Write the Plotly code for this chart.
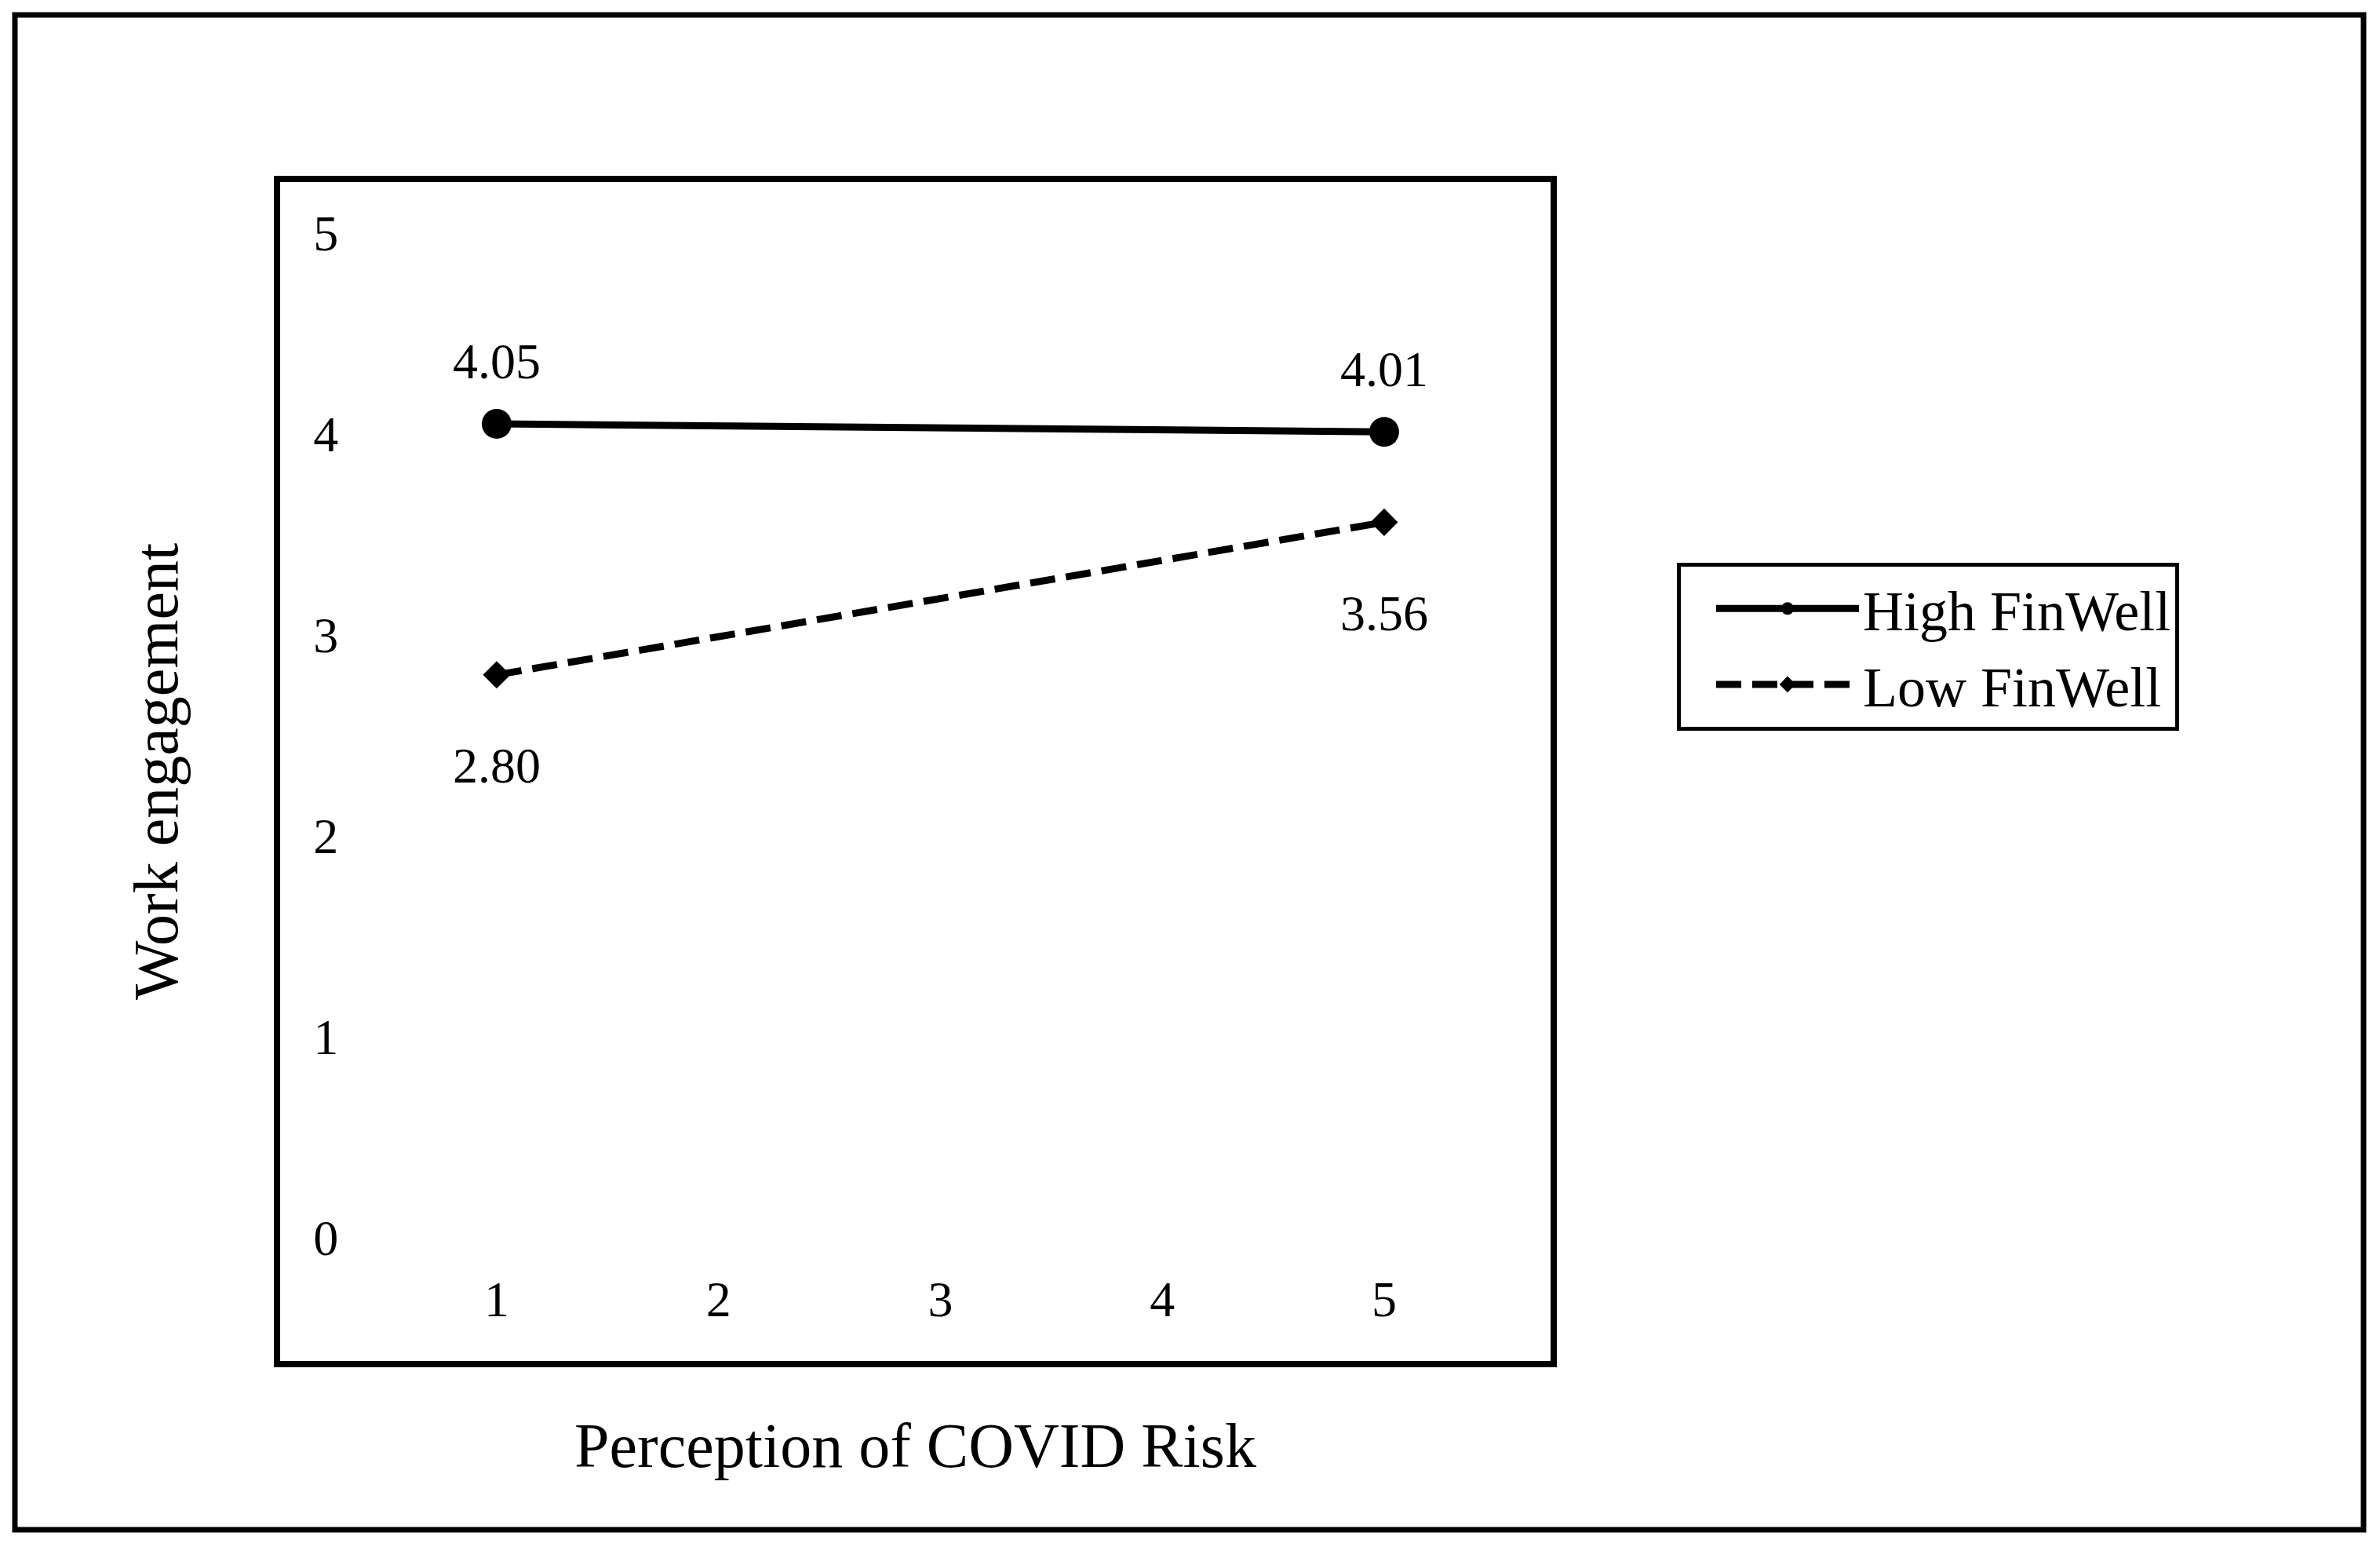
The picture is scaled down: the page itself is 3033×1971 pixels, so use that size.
import plotly.graph_objects as go

# ---- data ----
x_levels = [1, 5]
high_finwell = [4.05, 4.01]
low_finwell = [2.80, 3.56]
series_names = ["High FinWell", "Low FinWell"]
x_ticks = [1, 2, 3, 4, 5]
y_ticks = [0, 1, 2, 3, 4, 5]
x_title = "Perception of COVID Risk"
y_title = "Work engagement"

W, H = 3033, 1971
PL, PR, PT, PB = 357, 1976, 232, 1734  # plot box in pixels
FONT = "Liberation Serif"


def px_x(px):
    return (px - PL) / (PR - PL)


def px_y(py):
    return (PB - py) / (PB - PT)


fig = go.Figure()
fig.add_trace(go.Scatter(
    x=x_levels, y=high_finwell, name=series_names[0], mode="lines+markers",
    line=dict(color="black", width=9),
    marker=dict(symbol="circle", size=38, color="black"),
))
fig.add_trace(go.Scatter(
    x=x_levels, y=low_finwell, name=series_names[1], mode="lines+markers",
    line=dict(color="black", width=9, dash="32px,14px"),
    marker=dict(symbol="diamond", size=27, color="black"),
))

annotations = []
for xv, yv in zip(x_levels, high_finwell):
    annotations.append(dict(x=xv, y=yv, xref="x", yref="y", text=f"{yv:.2f}",
                            showarrow=False, yshift=80, yanchor="middle",
                            font=dict(family=FONT, size=64, color="black")))
for xv, yv in zip(x_levels, low_finwell):
    annotations.append(dict(x=xv, y=yv, xref="x", yref="y", text=f"{yv:.2f}",
                            showarrow=False, yshift=-116, yanchor="middle",
                            font=dict(family=FONT, size=64, color="black")))

shapes = [
    dict(type="rect", xref="paper", yref="paper",
         x0=px_x(19), x1=px_x(3012), y0=px_y(1949), y1=px_y(19),
         line=dict(color="black", width=7), fillcolor="rgba(0,0,0,0)", layer="below"),
]

fig.update_layout(
    width=W, height=H,
    margin=dict(l=PL, r=W - PR, t=PT, b=H - PB, pad=0),
    paper_bgcolor="white", plot_bgcolor="white",
    font=dict(family=FONT, color="black", size=64),
    showlegend=True,
    legend=dict(
        x=px_x(2137), y=px_y(717), xanchor="left", yanchor="top",
        bordercolor="black", borderwidth=5, bgcolor="white",
        font=dict(family=FONT, size=72, color="black"),
        itemwidth=182, tracegroupgap=0, indentation=40,
    ),
    annotations=annotations,
    shapes=shapes,
    xaxis=dict(
        range=[0.024, 5.75], tickvals=x_ticks, ticktext=[str(t) for t in x_ticks],
        showgrid=False, zeroline=False, showline=True, mirror=True,
        linecolor="black", linewidth=8, ticks="",
        ticklabelposition="inside", ticklabelstandoff=54,
        tickfont=dict(family=FONT, size=64, color="black"),
        title=dict(text=x_title, standoff=126, font=dict(family=FONT, size=80, color="black")),
        automargin=False, fixedrange=True,
    ),
    yaxis=dict(
        range=[-0.617, 5.254], tickvals=y_ticks, ticktext=[str(t) for t in y_ticks],
        showgrid=False, zeroline=False, showline=True, mirror=True,
        linecolor="black", linewidth=8, ticks="",
        ticklabelposition="inside", ticklabelstandoff=52,
        tickfont=dict(family=FONT, size=64, color="black"),
        title=dict(text=y_title, standoff=149, font=dict(family=FONT, size=80, color="black")),
        automargin=False, fixedrange=True,
    ),
)

fig.write_html("out.html", post_script="document.body.style.margin='0';",
               config={"displayModeBar": False})
